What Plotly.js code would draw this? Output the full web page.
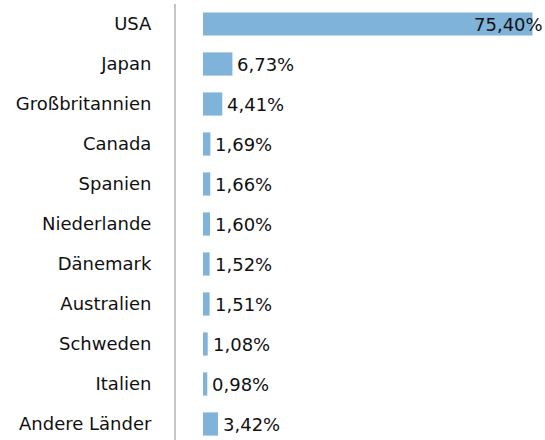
<!DOCTYPE html>
<html>
<head>
<meta charset="utf-8">
<script src="https://cdn.plot.ly/plotly-3.0.1.min.js"></script>
<style>html,body{margin:0;padding:0;background:#fff;}#chart{width:545px;height:440px;}</style>
</head>
<body>
<div id="chart"></div>
<script>
const countries = ["USA","Japan","Großbritannien","Canada","Spanien","Niederlande","Dänemark","Australien","Schweden","Italien","Andere Länder"];
const shares = [75.40, 6.73, 4.41, 1.69, 1.66, 1.60, 1.52, 1.51, 1.08, 0.98, 3.42];
const labels = shares.map(v => v.toFixed(2).replace('.', ',') + '%');

const trace = {
  type: 'bar',
  orientation: 'h',
  x: shares,
  y: countries,
  marker: {color: '#7fb3da', line: {width: 0}},
  width: 0.58,
  hoverinfo: 'none'
};

// value labels: outside the bar, except the largest one which sits at the bar end
const annotations = shares.map((v, i) => ({
  x: v, y: countries[i], xref: 'x', yref: 'y',
  text: labels[i], showarrow: false,
  xanchor: i === 0 ? 'right' : 'left',
  xshift: i === 0 ? 12 : 3,
  yanchor: 'middle',
  font: {family: 'DejaVu Sans', size: 18, color: '#111'}
}));

const layout = {
  width: 545, height: 440,
  margin: {l: 176, r: 0, t: 4, b: 0},
  paper_bgcolor: '#fff', plot_bgcolor: '#fff',
  showlegend: false,
  font: {family: 'DejaVu Sans', size: 18, color: '#111'},
  annotations: annotations,
  xaxis: {range: [-6.18, 78.26], visible: false, showgrid: false, zeroline: false, fixedrange: true},
  yaxis: {
    type: 'category',
    range: [10.4, -0.5],
    showline: true, linecolor: '#c6c6c6', linewidth: 2,
    showgrid: false, zeroline: false, ticks: '',
    ticklabelstandoff: 19,
    tickfont: {family: 'DejaVu Sans', size: 18, color: '#111'},
    fixedrange: true
  }
};

Plotly.newPlot('chart', [trace], layout, {displayModeBar: false, staticPlot: true});
</script>
</body>
</html>
